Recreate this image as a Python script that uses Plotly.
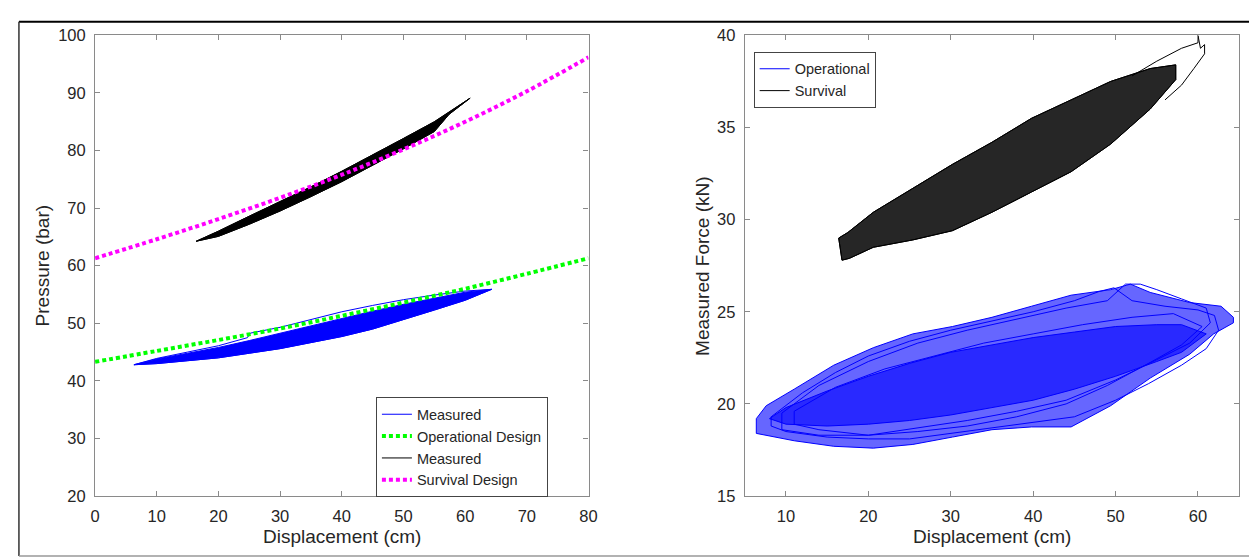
import plotly.graph_objects as go

W, H = 1257, 558

# ---------------- Left panel data (Displacement cm vs Pressure bar) ----------------
design_x = [0, 10, 20, 30, 40, 50, 60, 70, 80]
operational_design_p = [43.3, 45.2, 47.1, 49.1, 51.3, 53.6, 56.0, 58.6, 61.3]
survival_design_p = [61.3, 64.6, 68.1, 71.8, 75.8, 80.2, 85.0, 90.3, 96.2]

# operational measured: outer envelope of the hysteresis band
op_meas_env_x = [6.3, 10, 15, 20, 24.7, 25.2, 30, 35, 40, 45, 50, 55, 60, 64.3,
                 60, 55, 50, 45, 40, 35, 30, 25, 20, 15, 10, 6.3]
op_meas_env_p = [42.8, 43.9, 45.0, 46.1, 47.5, 48.3, 49.3, 50.6, 52.0, 53.1, 54.1, 54.9, 55.6, 55.9,
                 54.0, 52.3, 50.7, 49.0, 47.7, 46.6, 45.6, 44.8, 44.0, 43.5, 43.0, 42.8]
# operational measured: dense core of the band
op_meas_core_x = [6.3, 10, 15, 20, 25, 30, 35, 40, 45, 50, 55, 60, 64.3,
                  60, 55, 50, 45, 40, 35, 30, 25, 20, 15, 10, 6.3]
op_meas_core_p = [42.8, 43.8, 44.8, 45.8, 47.0, 48.3, 49.6, 50.9, 52.1, 53.3, 54.4, 55.4, 55.9,
                  54.0, 52.3, 50.7, 49.0, 47.7, 46.6, 45.6, 44.8, 44.0, 43.5, 43.0, 42.8]

# survival measured: envelope of the hysteresis band
sv_meas_env_x = [16.4, 20, 25, 30, 35, 40, 45, 50, 55, 58, 60.8,
                 57.4, 55, 50, 45, 40, 35, 30, 25, 20, 16.4]
sv_meas_env_p = [64.25, 66.0, 68.6, 71.1, 73.7, 76.4, 79.2, 82.1, 85.0, 87.1, 89.1,
                 86.3, 83.3, 80.3, 77.4, 74.6, 72.0, 69.5, 67.2, 65.1, 64.25]

# ---------------- Right panel data (Displacement cm vs Measured Force kN) ----------------
op_force_env_x = [6.4, 7.6, 11, 15.8, 20.6, 25.4, 30.2, 35, 39.8, 44.6, 49.4, 51.8, 54.2, 59, 62.8, 64.3,
                  64.3, 61.9, 59, 54.2, 49.4, 44.6, 39.8, 35, 30.2, 25.4, 20.6, 15.8, 11, 6.4, 6.4]
op_force_env_f = [19.2, 19.9, 20.8, 22.1, 23.05, 23.8, 24.2, 24.7, 25.3, 25.9, 26.2, 26.5, 26.05, 25.5, 25.3, 24.7,
                  24.4, 23.8, 22.7, 21.4, 19.9, 18.75, 18.75, 18.6, 18.2, 17.8, 17.6, 17.7, 18.0, 18.4, 19.2]
op_force_core_x = [8, 10, 15, 20, 25, 30, 35, 40, 45, 50, 55, 58, 61,
                   58, 55, 50, 45, 40, 35, 30, 25, 20, 15, 10, 8]
op_force_core_f = [19.2, 19.8, 20.7, 21.5, 22.2, 22.8, 23.2, 23.6, 23.9, 24.2, 24.3, 24.3, 23.8,
                   22.8, 22.3, 21.5, 20.8, 20.2, 19.8, 19.4, 19.1, 18.9, 18.8, 18.9, 19.2]
# a few individual operational loops visible outside the dense core
op_loop1_x = [8.2, 12, 16, 20, 25, 30, 35, 40, 45, 48, 49.8, 52, 56, 60, 62, 62.5,
              61, 58, 54, 50, 45, 40, 35, 30, 25, 20, 15, 10, 8.2, 8.2]
op_loop1_f = [19.3, 20.6, 21.7, 22.6, 23.4, 24.0, 24.5, 25.0, 25.6, 26.1, 26.3, 25.6, 25.3, 25.1, 24.8, 24.0,
              23.0, 22.1, 21.1, 20.2, 19.3, 19.0, 18.7, 18.4, 18.1, 18.1, 18.2, 18.5, 18.8, 19.3]
op_loop2_x = [9.5, 14, 20, 26, 32, 38, 44, 49, 51.2, 53, 55, 58, 61, 61.5,
              59, 55, 50, 44, 38, 32, 26, 20, 14, 9.5, 9.5]
op_loop2_f = [19.5, 21.0, 22.3, 23.3, 24.0, 24.6, 25.2, 25.6, 26.5, 26.5, 26.2, 25.7, 25.2, 24.4,
              23.3, 22.4, 21.3, 20.2, 19.6, 19.1, 18.7, 18.3, 18.3, 18.6, 19.5]
op_loop3_x = [11, 16, 22, 28, 34, 40, 46, 52, 57, 60.5, 58, 54, 49, 44, 38, 32, 26, 20, 14, 11, 11]
op_loop3_f = [19.6, 20.9, 21.9, 22.6, 23.3, 23.8, 24.3, 24.7, 24.9, 24.2, 23.2, 22.2, 21.0, 20.0, 19.3, 18.8, 18.5, 18.3, 18.6, 18.9, 19.6]

sv_force_env_x = [16.8, 16.4, 17.5, 20.6, 25.4, 30.2, 35, 39.8, 44.6, 49.4, 54.2, 57.3,
                  57.3, 54.2, 49.4, 44.6, 39.8, 35, 30.2, 25.4, 20.6, 17.7, 16.8]
sv_force_env_f = [27.8, 29.0, 29.3, 30.4, 31.7, 33.0, 34.2, 35.5, 36.5, 37.5, 38.2, 38.4,
                  37.6, 36.0, 34.1, 32.6, 31.5, 30.4, 29.4, 28.9, 28.5, 27.9, 27.8]
sv_force_peak_x = [52, 55, 58, 60, 60, 60.3, 60.8, 60.8, 59.5, 58, 56]
sv_force_peak_f = [37.8, 38.6, 39.3, 39.6, 40.0, 39.3, 39.5, 39.0, 38.2, 37.3, 36.5]

BLUE = "rgb(0,0,255)"
BLACK = "rgb(0,0,0)"
GREEN = "rgb(0,255,0)"
MAGENTA = "rgb(255,0,255)"
FONT = "Liberation Sans, Arial, sans-serif"
TXT = "#262626"
AX = "#8a8a8a"

fig = go.Figure()

# ---- Left panel traces ----
fig.add_trace(go.Scatter(x=op_meas_core_x, y=op_meas_core_p, mode="lines", fill="toself",
                         fillcolor=BLUE, line=dict(color=BLUE, width=1), showlegend=False,
                         xaxis="x", yaxis="y", hoverinfo="skip"))
fig.add_trace(go.Scatter(x=op_meas_env_x, y=op_meas_env_p, mode="lines", name="Measured",
                         line=dict(color=BLUE, width=1), legend="legend", xaxis="x", yaxis="y"))
fig.add_trace(go.Scatter(x=design_x, y=operational_design_p, mode="lines", name="Operational Design",
                         line=dict(color=GREEN, width=4, dash="4px,3px", shape="spline"),
                         legend="legend", xaxis="x", yaxis="y"))
fig.add_trace(go.Scatter(x=sv_meas_env_x, y=sv_meas_env_p, mode="lines", fill="toself",
                         fillcolor=BLACK, line=dict(color=BLACK, width=1), showlegend=False,
                         xaxis="x", yaxis="y", hoverinfo="skip"))
fig.add_trace(go.Scatter(x=sv_meas_env_x, y=sv_meas_env_p, mode="lines", name="Measured",
                         line=dict(color=BLACK, width=1), legend="legend", xaxis="x", yaxis="y"))
fig.add_trace(go.Scatter(x=design_x, y=survival_design_p, mode="lines", name="Survival Design",
                         line=dict(color=MAGENTA, width=4, dash="4px,3px", shape="spline"),
                         legend="legend", xaxis="x", yaxis="y"))

# ---- Right panel traces ----
fig.add_trace(go.Scatter(x=op_force_env_x, y=op_force_env_f, mode="lines", fill="toself",
                         fillcolor="rgba(0,0,255,0.6)", line=dict(color=BLUE, width=1),
                         showlegend=False, xaxis="x2", yaxis="y2", hoverinfo="skip"))
fig.add_trace(go.Scatter(x=op_force_core_x, y=op_force_core_f, mode="lines", fill="toself",
                         fillcolor="rgba(0,0,255,0.6)", line=dict(color=BLUE, width=1),
                         showlegend=False, xaxis="x2", yaxis="y2", hoverinfo="skip"))
fig.add_trace(go.Scatter(x=op_loop1_x, y=op_loop1_f, mode="lines", name="Operational",
                         line=dict(color=BLUE, width=1), legend="legend2", xaxis="x2", yaxis="y2"))
fig.add_trace(go.Scatter(x=op_loop2_x, y=op_loop2_f, mode="lines", showlegend=False,
                         line=dict(color=BLUE, width=1), xaxis="x2", yaxis="y2", hoverinfo="skip"))
fig.add_trace(go.Scatter(x=op_loop3_x, y=op_loop3_f, mode="lines", showlegend=False,
                         line=dict(color=BLUE, width=1), xaxis="x2", yaxis="y2", hoverinfo="skip"))
fig.add_trace(go.Scatter(x=sv_force_env_x, y=sv_force_env_f, mode="lines", fill="toself",
                         fillcolor="rgba(0,0,0,0.85)", line=dict(color=BLACK, width=1),
                         showlegend=False, xaxis="x2", yaxis="y2", hoverinfo="skip"))
fig.add_trace(go.Scatter(x=sv_force_env_x, y=sv_force_env_f, mode="lines", name="Survival",
                         line=dict(color=BLACK, width=1), legend="legend2", xaxis="x2", yaxis="y2"))
fig.add_trace(go.Scatter(x=sv_force_peak_x, y=sv_force_peak_f, mode="lines",
                         line=dict(color=BLACK, width=1), showlegend=False,
                         xaxis="x2", yaxis="y2", hoverinfo="skip"))

axis_common = dict(showgrid=False, zeroline=False, showline=True, linecolor=AX, linewidth=1.2,
                   mirror="allticks", ticks="inside", ticklen=5, tickcolor=AX, tickwidth=1,
                   tickfont=dict(family=FONT, size=16.5, color=TXT))

LX0, LX1 = 83 / W, 582 / W
RX0, RX1 = 740 / W, 1240 / W
Y0, Y1 = 1 - 495 / H, 1 - 19 / H

title_font = dict(family=FONT, size=19, color=TXT)
legend_font = dict(family=FONT, size=14.5, color=TXT)

fig.update_layout(
    width=W, height=H, margin=dict(l=0, r=0, t=0, b=0),
    paper_bgcolor="white", plot_bgcolor="white",
    font=dict(family=FONT, color=TXT),
    xaxis=dict(domain=[LX0, LX1], range=[0, 80], tickvals=[0, 10, 20, 30, 40, 50, 60, 70, 80],
               anchor="y", ticklabelstandoff=5, **axis_common),
    yaxis=dict(domain=[Y0, Y1], range=[20, 100], tickvals=[20, 30, 40, 50, 60, 70, 80, 90, 100],
               anchor="x", ticklabelstandoff=5, **axis_common),
    xaxis2=dict(domain=[RX0, RX1], range=[5, 65], tickvals=[10, 20, 30, 40, 50, 60],
                anchor="y2", ticklabelstandoff=5, **axis_common),
    yaxis2=dict(domain=[Y0, Y1], range=[15, 40], tickvals=[15, 20, 25, 30, 35, 40],
                anchor="x2", ticklabelstandoff=5, **axis_common),
    legend=dict(x=367 / W, y=1 - 393 / H, xanchor="left", yanchor="top",
                bgcolor="white", bordercolor="#444444", borderwidth=1,
                font=legend_font, tracegroupgap=0, itemwidth=30),
    legend2=dict(x=749 / W, y=1 - 36 / H, xanchor="left", yanchor="top",
                 bgcolor="white", bordercolor="#444444", borderwidth=1,
                 font=legend_font, tracegroupgap=0, itemwidth=30),
    annotations=[
        dict(text="Displacement (cm)", x=(LX0 + LX1) / 2, y=1 - 537 / H, xref="paper", yref="paper",
             showarrow=False, xanchor="center", yanchor="middle", font=title_font),
        dict(text="Displacement (cm)", x=(RX0 + RX1) / 2, y=1 - 537 / H, xref="paper", yref="paper",
             showarrow=False, xanchor="center", yanchor="middle", font=title_font),
        dict(text="Pressure (bar)", x=30 / W, y=(Y0 + Y1) / 2, xref="paper", yref="paper", textangle=-90,
             showarrow=False, xanchor="center", yanchor="middle", font=title_font),
        dict(text="Measured Force (kN)", x=697 / W, y=(Y0 + Y1) / 2, xref="paper", yref="paper", textangle=-90,
             showarrow=False, xanchor="center", yanchor="middle", font=title_font),
    ],
    shapes=[
        dict(type="line", xref="paper", yref="paper", x0=6 / W, x1=1, y0=1 - 5 / H, y1=1 - 5 / H,
             line=dict(color="black", width=2)),
        dict(type="line", xref="paper", yref="paper", x0=6 / W, x1=6 / W, y0=1 - 5 / H, y1=1 - 557 / H,
             line=dict(color="#333333", width=1.5)),
        dict(type="line", xref="paper", yref="paper", x0=6 / W, x1=1, y0=1 - 557 / H, y1=1 - 557 / H,
             line=dict(color="#999999", width=1.5)),
    ],
)

fig.write_html("out.html")
